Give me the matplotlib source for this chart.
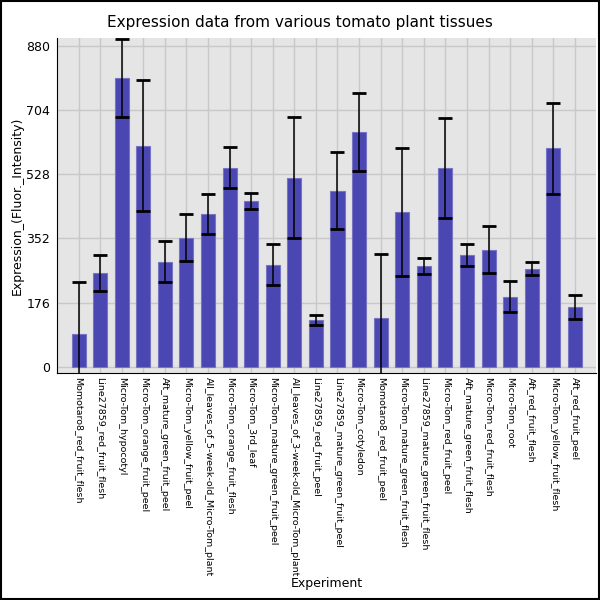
import numpy as np
import matplotlib.pyplot as plt

# Données
experiments = [
    "Momotaro8_red_fruit_flesh", "Line27859_red_fruit_flesh", "Micro-Tom_hypocotyl",
    "Micro-Tom_orange_fruit_peel", "Aft_mature_green_fruit_peel", "Micro-Tom_yellow_fruit_peel",
    "All_leaves_of_5-week-old_Micro-Tom_plant", "Micro-Tom_orange_fruit_flesh", "Micro-Tom_3rd_leaf",
    "Micro-Tom_mature_green_fruit_peel", "All_leaves_of_3-week-old_Micro-Tom_plant",
    "Line27859_red_fruit_peel", "Line27859_mature_green_fruit_peel", "Micro-Tom_cotyledon",
    "Momotaro8_red_fruit_peel", "Micro-Tom_mature_green_fruit_flesh",
    "Line27859_mature_green_fruit_flesh", "Micro-Tom_red_fruit_peel",
    "Aft_mature_green_fruit_flesh", "Micro-Tom_red_fruit_flesh", "Micro-Tom_root",
    "Aft_red_fruit_flesh", "Micro-Tom_yellow_fruit_flesh", "Aft_red_fruit_peel",
]
expression = [90, 258, 791, 607, 288, 354, 420, 546, 456, 280, 519, 128,
              483, 645, 134, 425, 277, 546, 307, 321, 192, 269, 599, 164]
erreur = [141, 49, 107, 179, 57, 65, 55, 56, 22, 57, 166, 15,
          105, 107, 176, 175, 22, 137, 30, 64, 43, 18, 125, 33]
yticks = [0, 176, 352, 528, 704, 880]

x = np.arange(len(experiments))

fig = plt.figure(figsize=(6, 6), dpi=100)
ax = fig.add_axes([0.095, 0.378, 0.899, 0.558])
ax.set_facecolor("#e5e5e5")
ax.set_axisbelow(True)
ax.grid(True, color="#c8c8c8", linewidth=1)

ax.bar(x, expression, width=0.65, color="#4a46b2", edgecolor="#7774c6", linewidth=0.8)
ax.errorbar(x, expression, yerr=erreur, fmt="none", ecolor="black",
            elinewidth=1.1, capsize=4.8, capthick=2)

ax.set_xlim(-1, len(experiments))
ax.set_ylim(-18, 901)
ax.set_yticks(yticks)
ax.set_xticks(x)
ax.set_xticklabels(experiments, rotation=-90, fontsize=6.8)
ax.tick_params(axis="y", labelsize=9, length=0, pad=5)
ax.tick_params(axis="x", length=0, pad=3)
ax.spines["top"].set_visible(False)
ax.spines["right"].set_visible(False)

ax.set_ylabel("Expression_(Fluor._Intensity)", fontsize=9, labelpad=2)
ax.set_xlabel("Experiment", fontsize=9, labelpad=0)
fig.suptitle("Expression data from various tomato plant tissues", fontsize=11, y=0.975)

# Cadre autour de la figure
fig.patches.append(plt.Rectangle((0.001, 0.001), 0.998, 0.998, transform=fig.transFigure,
                                 fill=False, edgecolor="black", linewidth=1.5))

fig.savefig("out.png", dpi=100)
